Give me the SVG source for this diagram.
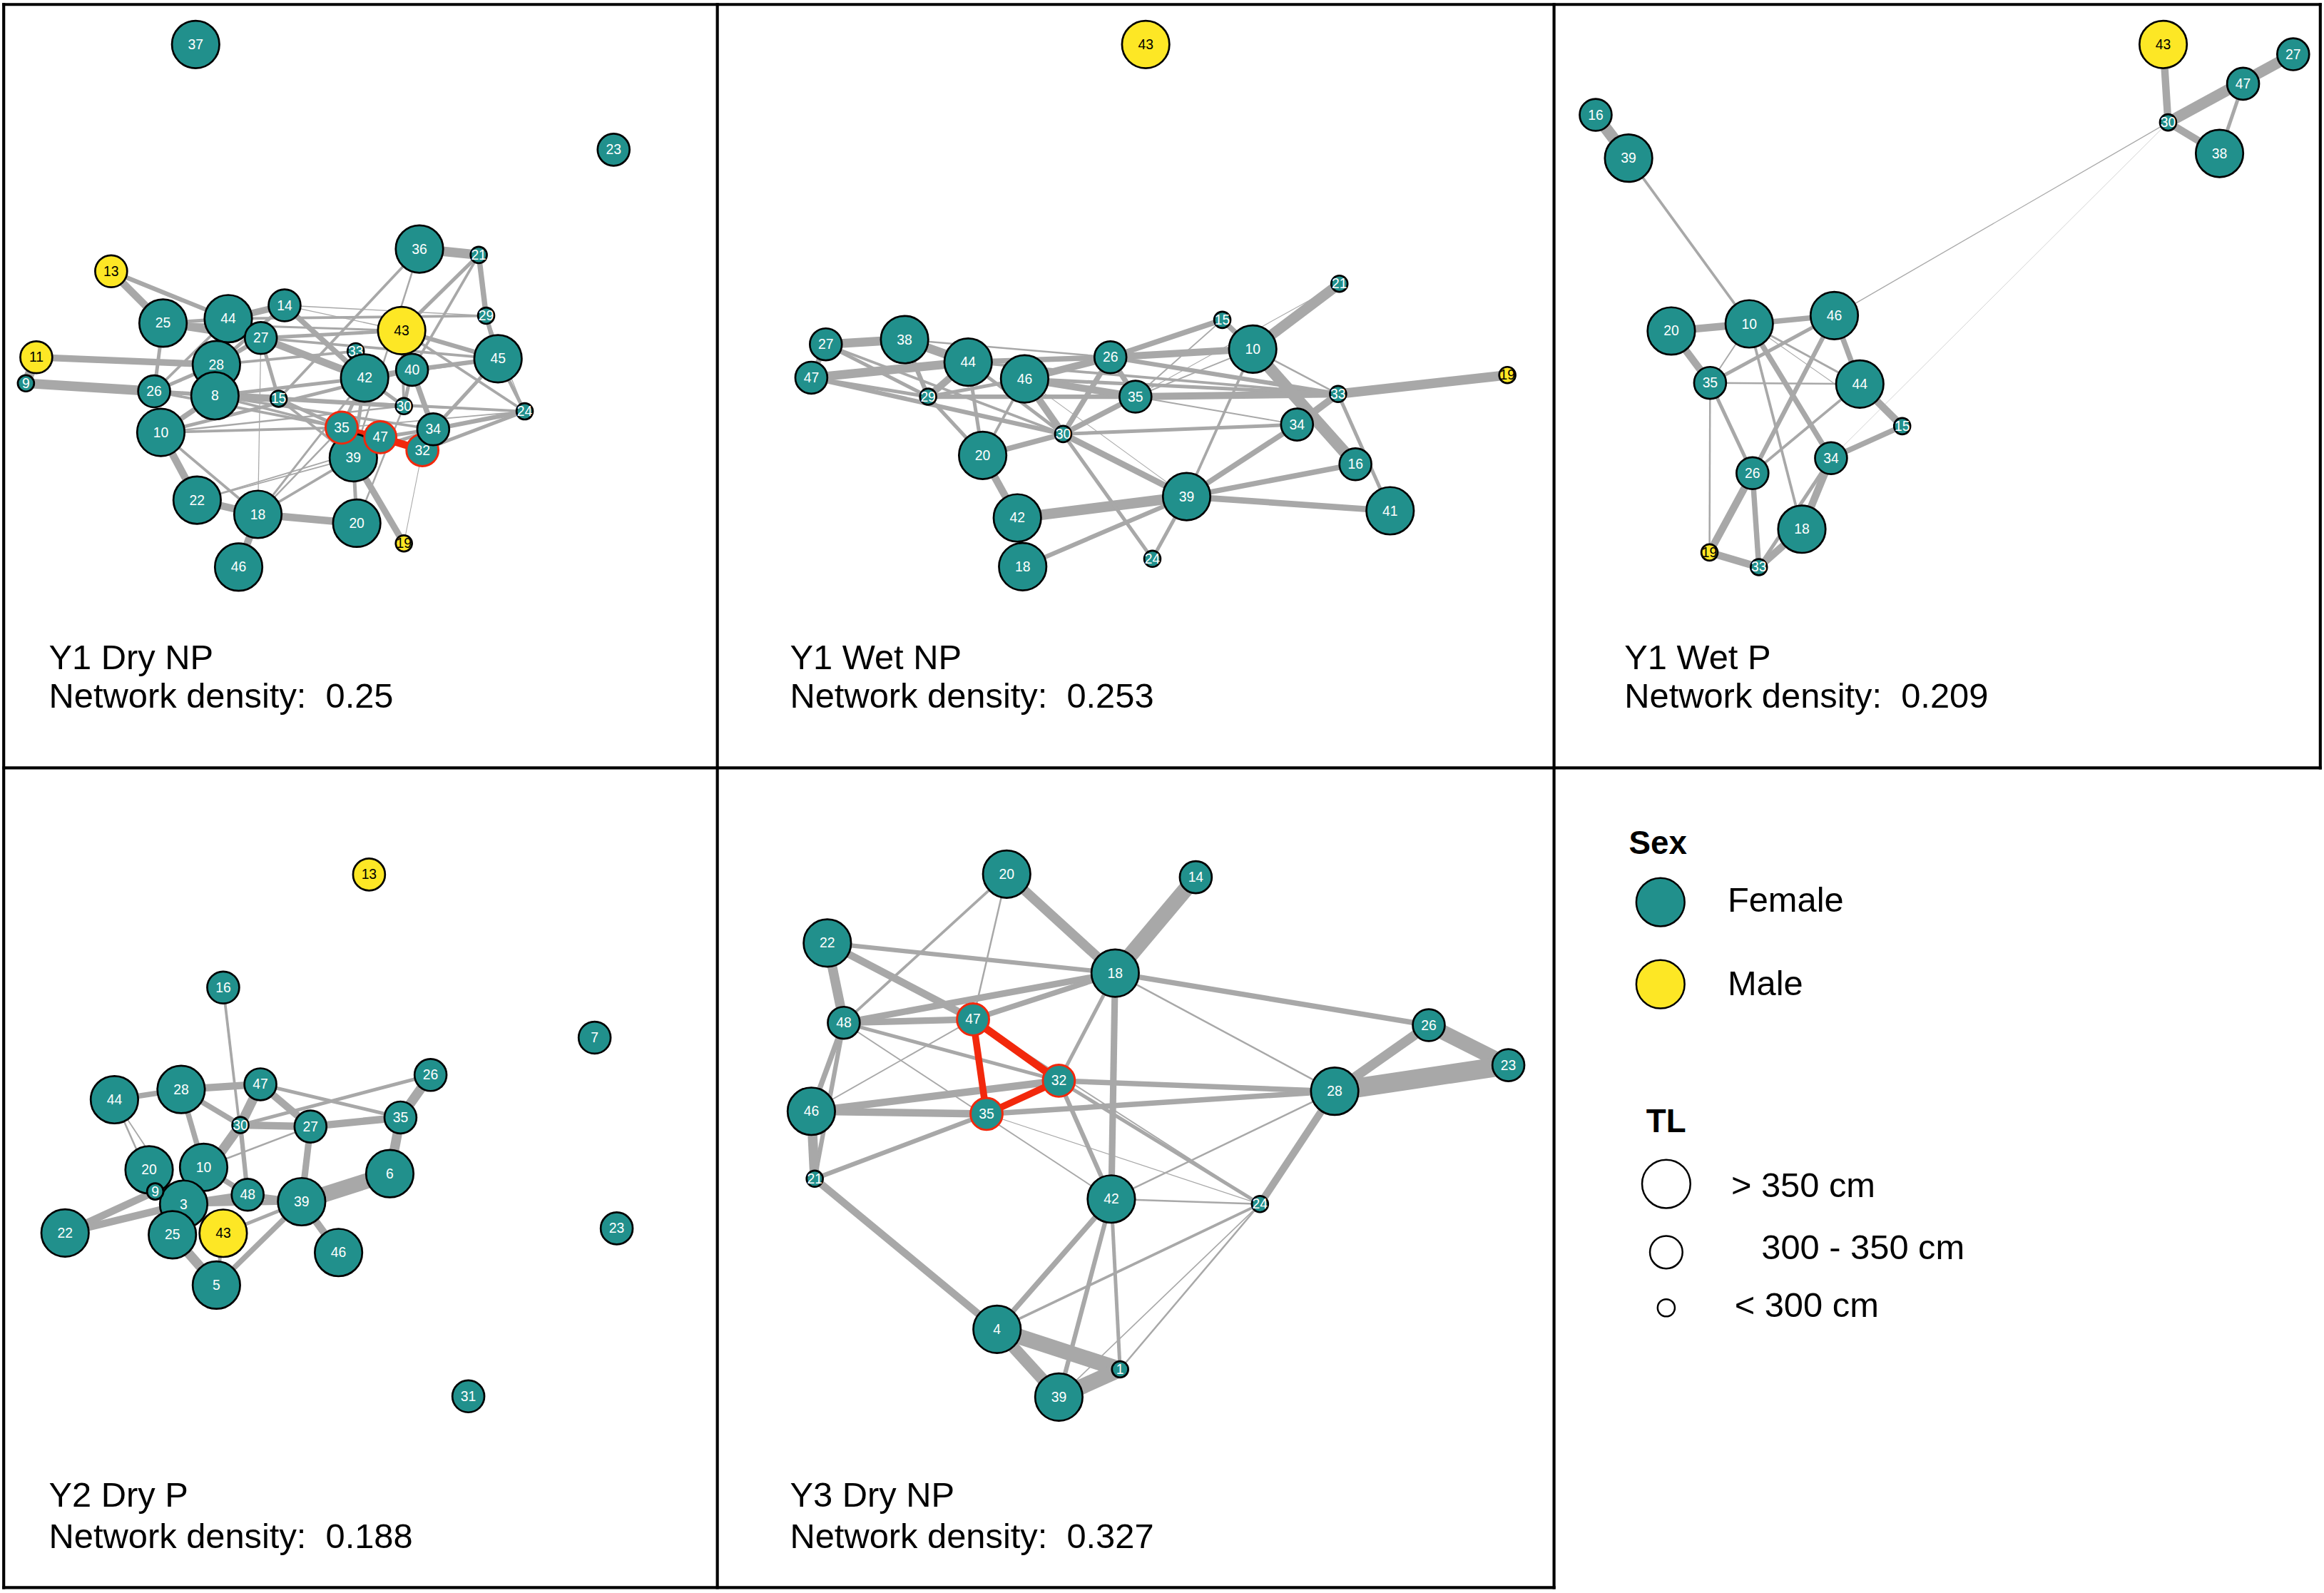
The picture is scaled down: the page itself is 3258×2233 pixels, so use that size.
<svg xmlns="http://www.w3.org/2000/svg" width="3258" height="2233" viewBox="0 0 3258 2233">
<style>
text{font-family:"Liberation Sans",Arial,Helvetica,sans-serif}
.ed line{stroke:#A8A8A8;stroke-linecap:butt}
.rd line{stroke:#F2280C;stroke-linecap:butt}
.n circle{stroke:#000;stroke-width:1.3}
.f circle{fill:#21908C}
.m circle{fill:#FDE725}
.n text{font-size:9.3px;text-anchor:middle;dominant-baseline:central}
.f text{fill:#fff}
.m text{fill:#000}
.r circle{stroke:#F2280C;stroke-width:1.4}
.lab{font-size:23.5px;fill:#000}
.hd{font-size:22px;font-weight:bold;fill:#000}
.fr line{stroke:#000;stroke-width:2}
.lg circle{stroke:#000;stroke-width:1.2}
</style>
<rect width="3258" height="2233" fill="#fff"/>
<g transform="scale(2.07781)">
<g id="frame" class="fr">
<line x1="1.5" y1="3" x2="1566.5" y2="3"/>
<line x1="2.5" y1="2" x2="2.5" y2="1072"/>
<line x1="484" y1="2" x2="484" y2="1072"/>
<line x1="1048.5" y1="2" x2="1048.5" y2="1072"/>
<line x1="1565.5" y1="2" x2="1565.5" y2="519"/>
<line x1="1.5" y1="518" x2="1566.5" y2="518"/>
<line x1="1.5" y1="1071" x2="1049.5" y2="1071"/>
</g>

<!-- ===== Panel 1: Y1 Dry NP ===== -->
<g id="p1-edges" class="ed">
<line x1="283" y1="168" x2="323" y2="172" stroke-width="6.5"/>
<line x1="323" y1="172" x2="328" y2="213" stroke-width="3.6"/>
<line x1="328" y1="213" x2="336" y2="242" stroke-width="3"/>
<line x1="336" y1="242" x2="354" y2="277.5" stroke-width="2.4"/>
<line x1="75" y1="183" x2="110" y2="218" stroke-width="5"/>
<line x1="75" y1="183" x2="154" y2="215" stroke-width="3"/>
<line x1="24.5" y1="241" x2="146" y2="246" stroke-width="4.5"/>
<line x1="24.5" y1="241" x2="17.5" y2="258.6" stroke-width="6.5"/>
<line x1="17.5" y1="258.6" x2="104" y2="264" stroke-width="6.5"/>
<line x1="110" y1="218" x2="104" y2="264" stroke-width="2.4"/>
<line x1="110" y1="218" x2="154" y2="215" stroke-width="2.4"/>
<line x1="110" y1="218" x2="176" y2="228" stroke-width="5"/>
<line x1="110" y1="218" x2="271" y2="223" stroke-width="1.4"/>
<line x1="154" y1="215" x2="328" y2="213" stroke-width="1.8"/>
<line x1="192" y1="206" x2="154" y2="215" stroke-width="4.4"/>
<line x1="192" y1="206" x2="246" y2="255" stroke-width="3.6"/>
<line x1="192" y1="206" x2="328" y2="213" stroke-width="0.7"/>
<line x1="192" y1="206" x2="146" y2="246" stroke-width="2.4"/>
<line x1="176" y1="228" x2="271" y2="223" stroke-width="2.4"/>
<line x1="176" y1="228" x2="246" y2="255" stroke-width="5"/>
<line x1="176" y1="228" x2="188" y2="269" stroke-width="2.4"/>
<line x1="176" y1="228" x2="336" y2="242" stroke-width="1.8"/>
<line x1="146" y1="246" x2="176" y2="228" stroke-width="3"/>
<line x1="146" y1="246" x2="104" y2="264" stroke-width="2.4"/>
<line x1="146" y1="246" x2="240" y2="237" stroke-width="1.8"/>
<line x1="145" y1="267" x2="188" y2="269" stroke-width="5"/>
<line x1="145" y1="267" x2="108.5" y2="291.7" stroke-width="3.6"/>
<line x1="145" y1="267" x2="104" y2="264" stroke-width="2.4"/>
<line x1="145" y1="267" x2="246" y2="255" stroke-width="2.4"/>
<line x1="145" y1="267" x2="292.3" y2="289.6" stroke-width="1.8"/>
<line x1="104" y1="264" x2="188" y2="269" stroke-width="2.4"/>
<line x1="104" y1="264" x2="230.5" y2="288.5" stroke-width="1.8"/>
<line x1="104" y1="264" x2="154" y2="215" stroke-width="1.8"/>
<line x1="108.5" y1="291.7" x2="133" y2="337.4" stroke-width="5"/>
<line x1="108.5" y1="291.7" x2="230.5" y2="288.5" stroke-width="1.8"/>
<line x1="108.5" y1="291.7" x2="174" y2="347" stroke-width="1.8"/>
<line x1="108.5" y1="291.7" x2="278" y2="249.5" stroke-width="2.4"/>
<line x1="133" y1="337.4" x2="174" y2="347" stroke-width="5"/>
<line x1="133" y1="337.4" x2="292.3" y2="289.6" stroke-width="0.9"/>
<line x1="133" y1="337.4" x2="238.4" y2="308.8" stroke-width="0.9"/>
<line x1="174" y1="347" x2="240.7" y2="353" stroke-width="5"/>
<line x1="174" y1="347" x2="161" y2="382.6" stroke-width="5"/>
<line x1="174" y1="347" x2="230.5" y2="288.5" stroke-width="1.2"/>
<line x1="174" y1="347" x2="246" y2="255" stroke-width="1.4"/>
<line x1="174" y1="347" x2="238.4" y2="308.8" stroke-width="1.8"/>
<line x1="176" y1="228" x2="174" y2="347" stroke-width="0.6"/>
<line x1="240.7" y1="353" x2="238.4" y2="308.8" stroke-width="2.4"/>
<line x1="240.7" y1="353" x2="272.5" y2="274" stroke-width="1.2"/>
<line x1="238.4" y1="308.8" x2="272.5" y2="366.6" stroke-width="4.4"/>
<line x1="285" y1="303.7" x2="272.5" y2="366.6" stroke-width="0.5"/>
<line x1="283" y1="168" x2="188" y2="269" stroke-width="1.8"/>
<line x1="283" y1="168" x2="238.4" y2="308.8" stroke-width="1.2"/>
<line x1="271" y1="223" x2="323" y2="172" stroke-width="2.4"/>
<line x1="278" y1="249.5" x2="323" y2="172" stroke-width="1.8"/>
<line x1="271" y1="223" x2="354" y2="277.5" stroke-width="1.8"/>
<line x1="271" y1="223" x2="336" y2="242" stroke-width="3"/>
<line x1="278" y1="249.5" x2="336" y2="242" stroke-width="3"/>
<line x1="246" y1="255" x2="278" y2="249.5" stroke-width="3.6"/>
<line x1="278" y1="249.5" x2="292.3" y2="289.6" stroke-width="3.6"/>
<line x1="278" y1="249.5" x2="272.5" y2="274" stroke-width="2.4"/>
<line x1="246" y1="255" x2="272.5" y2="274" stroke-width="2.4"/>
<line x1="246" y1="255" x2="238.4" y2="308.8" stroke-width="2.4"/>
<line x1="246" y1="255" x2="230.5" y2="288.5" stroke-width="2.4"/>
<line x1="292.3" y1="289.6" x2="354" y2="277.5" stroke-width="3"/>
<line x1="285" y1="303.7" x2="354" y2="277.5" stroke-width="2.4"/>
<line x1="292.3" y1="289.6" x2="336" y2="242" stroke-width="2.4"/>
<line x1="272.5" y1="274" x2="354" y2="277.5" stroke-width="1.2"/>
<line x1="188" y1="269" x2="354" y2="277.5" stroke-width="1.8"/>
<line x1="188" y1="269" x2="272.5" y2="274" stroke-width="3"/>
<line x1="188" y1="269" x2="238.4" y2="308.8" stroke-width="1.8"/>
<line x1="188" y1="269" x2="230.5" y2="288.5" stroke-width="2.4"/>
<line x1="145" y1="267" x2="230.5" y2="288.5" stroke-width="1.8"/>
<line x1="108.5" y1="291.7" x2="272.5" y2="274" stroke-width="1.2"/>
<line x1="238.4" y1="308.8" x2="292.3" y2="289.6" stroke-width="1.8"/>
<line x1="256.6" y1="295" x2="292.3" y2="289.6" stroke-width="2.4"/>
<line x1="271" y1="223" x2="272.5" y2="274" stroke-width="1.8"/>
<line x1="246" y1="255" x2="336" y2="242" stroke-width="1.8"/>
<line x1="192" y1="206" x2="271" y2="223" stroke-width="0.6"/>
<line x1="328" y1="213" x2="354" y2="277.5" stroke-width="0.6"/>
<line x1="230.5" y1="288.5" x2="354" y2="277.5" stroke-width="0.9"/>
</g>
<g id="p1-red" class="rd">
<line x1="230.5" y1="288.5" x2="256.6" y2="295" stroke-width="3.4"/>
<line x1="256.6" y1="295" x2="285" y2="303.7" stroke-width="5"/>
</g>
<g id="p1-nodes">
<g id="p1-n37" class="n f"><circle cx="132" cy="30" r="16"/><text x="132" y="30">37</text></g>
<g id="p1-n23" class="n f"><circle cx="414" cy="101" r="10.8"/><text x="414" y="101">23</text></g>
<g id="p1-n36" class="n f"><circle cx="283" cy="168" r="16"/><text x="283" y="168">36</text></g>
<g id="p1-n21" class="n f"><circle cx="323" cy="172" r="5.5"/><text x="323" y="172">21</text></g>
<g id="p1-n13" class="n m"><circle cx="75" cy="183" r="10.8"/><text x="75" y="183">13</text></g>
<g id="p1-n25" class="n f"><circle cx="110" cy="218" r="16"/><text x="110" y="218">25</text></g>
<g id="p1-n44" class="n f"><circle cx="154" cy="215" r="16"/><text x="154" y="215">44</text></g>
<g id="p1-n14" class="n f"><circle cx="192" cy="206" r="10.8"/><text x="192" y="206">14</text></g>
<g id="p1-n27" class="n f"><circle cx="176" cy="228" r="10.8"/><text x="176" y="228">27</text></g>
<g id="p1-n29" class="n f"><circle cx="328" cy="213" r="5.5"/><text x="328" y="213">29</text></g>
<g id="p1-n45" class="n f"><circle cx="336" cy="242" r="16"/><text x="336" y="242">45</text></g>
<g id="p1-n11" class="n m"><circle cx="24.5" cy="241" r="10.8"/><text x="24.5" y="241">11</text></g>
<g id="p1-n33" class="n f"><circle cx="240" cy="237" r="5.5"/><text x="240" y="237">33</text></g>
<g id="p1-n43" class="n m"><circle cx="271" cy="223" r="16"/><text x="271" y="223">43</text></g>
<g id="p1-n28" class="n f"><circle cx="146" cy="246" r="16"/><text x="146" y="246">28</text></g>
<g id="p1-n42" class="n f"><circle cx="246" cy="255" r="16"/><text x="246" y="255">42</text></g>
<g id="p1-n40" class="n f"><circle cx="278" cy="249.5" r="10.8"/><text x="278" y="249.5">40</text></g>
<g id="p1-n9" class="n f"><circle cx="17.5" cy="258.6" r="5.5"/><text x="17.5" y="258.6">9</text></g>
<g id="p1-n26" class="n f"><circle cx="104" cy="264" r="10.8"/><text x="104" y="264">26</text></g>
<g id="p1-n8" class="n f"><circle cx="145" cy="267" r="16"/><text x="145" y="267">8</text></g>
<g id="p1-n15" class="n f"><circle cx="188" cy="269" r="5.5"/><text x="188" y="269">15</text></g>
<g id="p1-n30" class="n f"><circle cx="272.5" cy="274" r="5.5"/><text x="272.5" y="274">30</text></g>
<g id="p1-n24" class="n f"><circle cx="354" cy="277.5" r="5.5"/><text x="354" y="277.5">24</text></g>
<g id="p1-n10" class="n f"><circle cx="108.5" cy="291.7" r="16"/><text x="108.5" y="291.7">10</text></g>
<g id="p1-n39" class="n f"><circle cx="238.4" cy="308.8" r="16"/><text x="238.4" y="308.8">39</text></g>
<g id="p1-n35" class="n f r"><circle cx="230.5" cy="288.5" r="10.8"/><text x="230.5" y="288.5">35</text></g>
<g id="p1-n47" class="n f r"><circle cx="256.6" cy="295" r="10.8"/><text x="256.6" y="295">47</text></g>
<g id="p1-n32" class="n f r"><circle cx="285" cy="303.7" r="10.8"/><text x="285" y="303.7">32</text></g>
<g id="p1-n34" class="n f"><circle cx="292.3" cy="289.6" r="10.8"/><text x="292.3" y="289.6">34</text></g>
<g id="p1-n22" class="n f"><circle cx="133" cy="337.4" r="16"/><text x="133" y="337.4">22</text></g>
<g id="p1-n18" class="n f"><circle cx="174" cy="347" r="16"/><text x="174" y="347">18</text></g>
<g id="p1-n20" class="n f"><circle cx="240.7" cy="353" r="16"/><text x="240.7" y="353">20</text></g>
<g id="p1-n19" class="n m"><circle cx="272.5" cy="366.6" r="5.5"/><text x="272.5" y="366.6">19</text></g>
<g id="p1-n46" class="n f"><circle cx="161" cy="382.6" r="16"/><text x="161" y="382.6">46</text></g>
</g>
<g id="p1-label">
<text class="lab" x="33" y="451.6">Y1 Dry NP</text>
<text class="lab" x="33" y="477.3" xml:space="preserve">Network density:  0.25</text>
</g>

<!-- ===== Panel 2: Y1 Wet NP ===== -->
<g id="p2-edges" class="ed">
<line x1="557.2" y1="232.3" x2="610.3" y2="229.1" stroke-width="6"/>
<line x1="557.2" y1="232.3" x2="547.4" y2="254.8" stroke-width="3.6"/>
<line x1="547.4" y1="254.8" x2="653.2" y2="244.3" stroke-width="6"/>
<line x1="547.4" y1="254.8" x2="626.2" y2="267.6" stroke-width="2.4"/>
<line x1="547.4" y1="254.8" x2="717.3" y2="292.8" stroke-width="3"/>
<line x1="557.2" y1="232.3" x2="626.2" y2="267.6" stroke-width="2.4"/>
<line x1="557.2" y1="232.3" x2="717.3" y2="292.8" stroke-width="1.8"/>
<line x1="610.3" y1="229.1" x2="653.2" y2="244.3" stroke-width="6"/>
<line x1="610.3" y1="229.1" x2="626.2" y2="267.6" stroke-width="3"/>
<line x1="610.3" y1="229.1" x2="749.2" y2="241" stroke-width="1.2"/>
<line x1="653.2" y1="244.3" x2="626.2" y2="267.6" stroke-width="4.8"/>
<line x1="653.2" y1="244.3" x2="749.2" y2="241" stroke-width="3.6"/>
<line x1="653.2" y1="244.3" x2="663" y2="307.2" stroke-width="2.4"/>
<line x1="653.2" y1="244.3" x2="717.3" y2="292.8" stroke-width="2.4"/>
<line x1="653.2" y1="244.3" x2="902.8" y2="265.8" stroke-width="1.8"/>
<line x1="626.2" y1="267.6" x2="766.1" y2="267.6" stroke-width="3"/>
<line x1="626.2" y1="267.6" x2="691.3" y2="255.6" stroke-width="2.4"/>
<line x1="626.2" y1="267.6" x2="663" y2="307.2" stroke-width="2.4"/>
<line x1="691.3" y1="255.6" x2="749.2" y2="241" stroke-width="4.8"/>
<line x1="691.3" y1="255.6" x2="717.3" y2="292.8" stroke-width="4.8"/>
<line x1="691.3" y1="255.6" x2="766.1" y2="267.6" stroke-width="4.8"/>
<line x1="691.3" y1="255.6" x2="902.8" y2="265.8" stroke-width="2.4"/>
<line x1="691.3" y1="255.6" x2="663" y2="307.2" stroke-width="1.8"/>
<line x1="691.3" y1="255.6" x2="800.6" y2="335" stroke-width="0.5"/>
<line x1="749.2" y1="241" x2="824.7" y2="215.8" stroke-width="3.6"/>
<line x1="749.2" y1="241" x2="845.2" y2="235.5" stroke-width="4.8"/>
<line x1="749.2" y1="241" x2="766.1" y2="267.6" stroke-width="3.6"/>
<line x1="749.2" y1="241" x2="717.3" y2="292.8" stroke-width="3.6"/>
<line x1="749.2" y1="241" x2="902.8" y2="265.8" stroke-width="3"/>
<line x1="766.1" y1="267.6" x2="717.3" y2="292.8" stroke-width="3.6"/>
<line x1="766.1" y1="267.6" x2="902.8" y2="265.8" stroke-width="4.8"/>
<line x1="766.1" y1="267.6" x2="824.7" y2="215.8" stroke-width="0.9"/>
<line x1="766.1" y1="267.6" x2="845.2" y2="235.5" stroke-width="0.9"/>
<line x1="766.1" y1="267.6" x2="875.1" y2="286.4" stroke-width="0.9"/>
<line x1="903.7" y1="191.4" x2="766.1" y2="267.6" stroke-width="0.5"/>
<line x1="824.7" y1="215.8" x2="845.2" y2="235.5" stroke-width="3.6"/>
<line x1="845.2" y1="235.5" x2="903.7" y2="191.4" stroke-width="7"/>
<line x1="845.2" y1="235.5" x2="902.8" y2="265.8" stroke-width="1.2"/>
<line x1="845.2" y1="235.5" x2="914.5" y2="313.2" stroke-width="8"/>
<line x1="845.2" y1="235.5" x2="800.6" y2="335" stroke-width="1.8"/>
<line x1="902.8" y1="265.8" x2="1017" y2="253" stroke-width="6.5"/>
<line x1="902.8" y1="265.8" x2="875.1" y2="286.4" stroke-width="4.8"/>
<line x1="902.8" y1="265.8" x2="937.9" y2="344.6" stroke-width="2.4"/>
<line x1="875.1" y1="286.4" x2="800.6" y2="335" stroke-width="3.6"/>
<line x1="875.1" y1="286.4" x2="717.3" y2="292.8" stroke-width="2.4"/>
<line x1="914.5" y1="313.2" x2="800.6" y2="335" stroke-width="3.6"/>
<line x1="800.6" y1="335" x2="937.9" y2="344.6" stroke-width="4.2"/>
<line x1="800.6" y1="335" x2="686.4" y2="349.4" stroke-width="7"/>
<line x1="800.6" y1="335" x2="690" y2="382.3" stroke-width="3"/>
<line x1="800.6" y1="335" x2="777.5" y2="377" stroke-width="2.4"/>
<line x1="717.3" y1="292.8" x2="800.6" y2="335" stroke-width="4.2"/>
<line x1="717.3" y1="292.8" x2="777.5" y2="377" stroke-width="2.4"/>
<line x1="717.3" y1="292.8" x2="663" y2="307.2" stroke-width="3.6"/>
<line x1="663" y1="307.2" x2="686.4" y2="349.4" stroke-width="5"/>
<line x1="686.4" y1="349.4" x2="690" y2="382.3" stroke-width="3.6"/>
</g>
<g id="p2-nodes">
<g id="p2-n43" class="n m"><circle cx="773" cy="30" r="16"/><text x="773" y="30">43</text></g>
<g id="p2-n21" class="n f"><circle cx="903.7" cy="191.4" r="5.5"/><text x="903.7" y="191.4">21</text></g>
<g id="p2-n15" class="n f"><circle cx="824.7" cy="215.8" r="5.5"/><text x="824.7" y="215.8">15</text></g>
<g id="p2-n10" class="n f"><circle cx="845.2" cy="235.5" r="16"/><text x="845.2" y="235.5">10</text></g>
<g id="p2-n19" class="n m"><circle cx="1017" cy="253" r="5.5"/><text x="1017" y="253">19</text></g>
<g id="p2-n27" class="n f"><circle cx="557.2" cy="232.3" r="10.8"/><text x="557.2" y="232.3">27</text></g>
<g id="p2-n38" class="n f"><circle cx="610.3" cy="229.1" r="16"/><text x="610.3" y="229.1">38</text></g>
<g id="p2-n44" class="n f"><circle cx="653.2" cy="244.3" r="16"/><text x="653.2" y="244.3">44</text></g>
<g id="p2-n46" class="n f"><circle cx="691.3" cy="255.6" r="16"/><text x="691.3" y="255.6">46</text></g>
<g id="p2-n26" class="n f"><circle cx="749.2" cy="241" r="10.8"/><text x="749.2" y="241">26</text></g>
<g id="p2-n47" class="n f"><circle cx="547.4" cy="254.8" r="10.8"/><text x="547.4" y="254.8">47</text></g>
<g id="p2-n29" class="n f"><circle cx="626.2" cy="267.6" r="5.5"/><text x="626.2" y="267.6">29</text></g>
<g id="p2-n35" class="n f"><circle cx="766.1" cy="267.6" r="10.8"/><text x="766.1" y="267.6">35</text></g>
<g id="p2-n33" class="n f"><circle cx="902.8" cy="265.8" r="5.5"/><text x="902.8" y="265.8">33</text></g>
<g id="p2-n30" class="n f"><circle cx="717.3" cy="292.8" r="5.5"/><text x="717.3" y="292.8">30</text></g>
<g id="p2-n34" class="n f"><circle cx="875.1" cy="286.4" r="10.8"/><text x="875.1" y="286.4">34</text></g>
<g id="p2-n20" class="n f"><circle cx="663" cy="307.2" r="16"/><text x="663" y="307.2">20</text></g>
<g id="p2-n16" class="n f"><circle cx="914.5" cy="313.2" r="10.8"/><text x="914.5" y="313.2">16</text></g>
<g id="p2-n39" class="n f"><circle cx="800.6" cy="335" r="16"/><text x="800.6" y="335">39</text></g>
<g id="p2-n41" class="n f"><circle cx="937.9" cy="344.6" r="16"/><text x="937.9" y="344.6">41</text></g>
<g id="p2-n42" class="n f"><circle cx="686.4" cy="349.4" r="16"/><text x="686.4" y="349.4">42</text></g>
<g id="p2-n18" class="n f"><circle cx="690" cy="382.3" r="16"/><text x="690" y="382.3">18</text></g>
<g id="p2-n24" class="n f"><circle cx="777.5" cy="377" r="5.5"/><text x="777.5" y="377">24</text></g>
</g>
<g id="p2-label">
<text class="lab" x="533" y="451.6">Y1 Wet NP</text>
<text class="lab" x="533" y="477.3" xml:space="preserve">Network density:  0.253</text>
</g>

<!-- ===== Panel 3: Y1 Wet P ===== -->
<g id="p3-edges" class="ed">
<line x1="1076.6" y1="77.5" x2="1098.8" y2="106.7" stroke-width="8"/>
<line x1="1098.8" y1="106.7" x2="1180.2" y2="218.5" stroke-width="1.8"/>
<line x1="1459.5" y1="30" x2="1462.8" y2="82.6" stroke-width="5"/>
<line x1="1462.8" y1="82.6" x2="1547.2" y2="36.6" stroke-width="7.5"/>
<line x1="1462.8" y1="82.6" x2="1497.5" y2="103.5" stroke-width="5"/>
<line x1="1513.4" y1="56.5" x2="1497.5" y2="103.5" stroke-width="2.4"/>
<line x1="1462.8" y1="82.6" x2="1237.6" y2="212.9" stroke-width="0.6"/>
<line x1="1462.8" y1="82.6" x2="1235.4" y2="309.1" stroke-width="0.4" stroke-opacity="0.6"/>
<line x1="1127.6" y1="223.3" x2="1180.2" y2="218.5" stroke-width="5"/>
<line x1="1127.6" y1="223.3" x2="1153.8" y2="258.3" stroke-width="5"/>
<line x1="1180.2" y1="218.5" x2="1237.6" y2="212.9" stroke-width="3.6"/>
<line x1="1180.2" y1="218.5" x2="1153.8" y2="258.3" stroke-width="0.9"/>
<line x1="1180.2" y1="218.5" x2="1254.8" y2="259.1" stroke-width="1.4"/>
<line x1="1180.2" y1="218.5" x2="1245" y2="264" stroke-width="0.5"/>
<line x1="1180.2" y1="218.5" x2="1235.4" y2="309.1" stroke-width="3.6"/>
<line x1="1180.2" y1="218.5" x2="1215.7" y2="357" stroke-width="1.8"/>
<line x1="1237.6" y1="212.9" x2="1153.8" y2="258.3" stroke-width="2.4"/>
<line x1="1237.6" y1="212.9" x2="1182.4" y2="319.2" stroke-width="3"/>
<line x1="1237.6" y1="212.9" x2="1254.8" y2="259.1" stroke-width="3.6"/>
<line x1="1153.8" y1="258.3" x2="1254.8" y2="259.1" stroke-width="1.2"/>
<line x1="1153.8" y1="258.3" x2="1182.4" y2="319.2" stroke-width="2.4"/>
<line x1="1153.8" y1="258.3" x2="1153.4" y2="372.7" stroke-width="1.2"/>
<line x1="1254.8" y1="259.1" x2="1283.4" y2="287.5" stroke-width="5"/>
<line x1="1254.8" y1="259.1" x2="1182.4" y2="319.2" stroke-width="1.8"/>
<line x1="1283.4" y1="287.5" x2="1235.4" y2="309.1" stroke-width="3.6"/>
<line x1="1235.4" y1="309.1" x2="1215.7" y2="357" stroke-width="5"/>
<line x1="1235.4" y1="309.1" x2="1186.7" y2="382.6" stroke-width="2.4"/>
<line x1="1182.4" y1="319.2" x2="1153.4" y2="372.7" stroke-width="5"/>
<line x1="1182.4" y1="319.2" x2="1186.7" y2="382.6" stroke-width="3.6"/>
<line x1="1153.4" y1="372.7" x2="1186.7" y2="382.6" stroke-width="5"/>
<line x1="1186.7" y1="382.6" x2="1215.7" y2="357" stroke-width="5"/>
</g>
<g id="p3-nodes">
<g id="p3-n43" class="n m"><circle cx="1459.5" cy="30" r="16"/><text x="1459.5" y="30">43</text></g>
<g id="p3-n27" class="n f"><circle cx="1547.2" cy="36.6" r="10.8"/><text x="1547.2" y="36.6">27</text></g>
<g id="p3-n47" class="n f"><circle cx="1513.4" cy="56.5" r="10.8"/><text x="1513.4" y="56.5">47</text></g>
<g id="p3-n30" class="n f"><circle cx="1462.8" cy="82.6" r="5.5"/><text x="1462.8" y="82.6">30</text></g>
<g id="p3-n38" class="n f"><circle cx="1497.5" cy="103.5" r="16"/><text x="1497.5" y="103.5">38</text></g>
<g id="p3-n16" class="n f"><circle cx="1076.6" cy="77.5" r="10.8"/><text x="1076.6" y="77.5">16</text></g>
<g id="p3-n39" class="n f"><circle cx="1098.8" cy="106.7" r="16"/><text x="1098.8" y="106.7">39</text></g>
<g id="p3-n20" class="n f"><circle cx="1127.6" cy="223.3" r="16"/><text x="1127.6" y="223.3">20</text></g>
<g id="p3-n10" class="n f"><circle cx="1180.2" cy="218.5" r="16"/><text x="1180.2" y="218.5">10</text></g>
<g id="p3-n46" class="n f"><circle cx="1237.6" cy="212.9" r="16"/><text x="1237.6" y="212.9">46</text></g>
<g id="p3-n35" class="n f"><circle cx="1153.8" cy="258.3" r="10.8"/><text x="1153.8" y="258.3">35</text></g>
<g id="p3-n44" class="n f"><circle cx="1254.8" cy="259.1" r="16"/><text x="1254.8" y="259.1">44</text></g>
<g id="p3-n15" class="n f"><circle cx="1283.4" cy="287.5" r="5.5"/><text x="1283.4" y="287.5">15</text></g>
<g id="p3-n34" class="n f"><circle cx="1235.4" cy="309.1" r="10.8"/><text x="1235.4" y="309.1">34</text></g>
<g id="p3-n26" class="n f"><circle cx="1182.4" cy="319.2" r="10.8"/><text x="1182.4" y="319.2">26</text></g>
<g id="p3-n18" class="n f"><circle cx="1215.7" cy="357" r="16"/><text x="1215.7" y="357">18</text></g>
<g id="p3-n19" class="n m"><circle cx="1153.4" cy="372.7" r="5.5"/><text x="1153.4" y="372.7">19</text></g>
<g id="p3-n33" class="n f"><circle cx="1186.7" cy="382.6" r="5.5"/><text x="1186.7" y="382.6">33</text></g>
</g>
<g id="p3-label">
<text class="lab" x="1096" y="451.6">Y1 Wet P</text>
<text class="lab" x="1096" y="477.3" xml:space="preserve">Network density:  0.209</text>
</g>

<!-- ===== Panel 4: Y2 Dry P ===== -->
<g id="p4-edges" class="ed">
<line x1="150.6" y1="666.2" x2="167.1" y2="806" stroke-width="1.8"/>
<line x1="77.2" y1="741.9" x2="122.2" y2="735" stroke-width="3.6"/>
<line x1="122.2" y1="735" x2="175.7" y2="731.5" stroke-width="5"/>
<line x1="122.2" y1="735" x2="162.2" y2="759" stroke-width="3.6"/>
<line x1="122.2" y1="735" x2="137.4" y2="787.5" stroke-width="3.6"/>
<line x1="77.2" y1="741.9" x2="104.7" y2="803.8" stroke-width="1.2"/>
<line x1="77.2" y1="741.9" x2="123.9" y2="812.4" stroke-width="0.9"/>
<line x1="175.7" y1="731.5" x2="162.2" y2="759" stroke-width="6.5"/>
<line x1="162.2" y1="759" x2="123.9" y2="812.4" stroke-width="6.5"/>
<line x1="175.7" y1="731.5" x2="209.5" y2="760" stroke-width="5"/>
<line x1="175.7" y1="731.5" x2="270.2" y2="753.9" stroke-width="2.4"/>
<line x1="162.2" y1="759" x2="209.5" y2="760" stroke-width="5"/>
<line x1="209.5" y1="760" x2="270.2" y2="753.9" stroke-width="5"/>
<line x1="162.2" y1="759" x2="290.5" y2="725.2" stroke-width="2.4"/>
<line x1="270.2" y1="753.9" x2="290.5" y2="725.2" stroke-width="6.5"/>
<line x1="270.2" y1="753.9" x2="263" y2="791.8" stroke-width="6.5"/>
<line x1="209.5" y1="760" x2="203.5" y2="810.7" stroke-width="4.4"/>
<line x1="209.5" y1="760" x2="137.4" y2="787.5" stroke-width="1.2"/>
<line x1="162.2" y1="759" x2="167.1" y2="806" stroke-width="3"/>
<line x1="203.5" y1="810.7" x2="263" y2="791.8" stroke-width="10.5"/>
<line x1="203.5" y1="810.7" x2="228.4" y2="845" stroke-width="5"/>
<line x1="203.5" y1="810.7" x2="146" y2="867" stroke-width="3.6"/>
<line x1="203.5" y1="810.7" x2="150.6" y2="832" stroke-width="2.4"/>
<line x1="203.5" y1="810.7" x2="123.9" y2="812.4" stroke-width="3.6"/>
<line x1="167.1" y1="806" x2="203.5" y2="810.7" stroke-width="3.6"/>
<line x1="167.1" y1="806" x2="123.9" y2="812.4" stroke-width="5"/>
<line x1="43.9" y1="831.8" x2="104.7" y2="803.8" stroke-width="5"/>
<line x1="43.9" y1="831.8" x2="123.9" y2="812.4" stroke-width="5"/>
<line x1="104.7" y1="803.8" x2="123.9" y2="812.4" stroke-width="3.6"/>
<line x1="137.4" y1="787.5" x2="123.9" y2="812.4" stroke-width="3.6"/>
<line x1="100.6" y1="789.2" x2="123.9" y2="812.4" stroke-width="3.6"/>
<line x1="116.3" y1="833" x2="146" y2="867" stroke-width="6.5"/>
<line x1="137.4" y1="787.5" x2="167.1" y2="806" stroke-width="3.6"/>
<line x1="150.6" y1="832" x2="146" y2="867" stroke-width="2.4"/>
</g>
<g id="p4-nodes">
<g id="p4-n13" class="n m"><circle cx="249" cy="590" r="10.8"/><text x="249" y="590">13</text></g>
<g id="p4-n16" class="n f"><circle cx="150.6" cy="666.2" r="10.8"/><text x="150.6" y="666.2">16</text></g>
<g id="p4-n7" class="n f"><circle cx="401.2" cy="700" r="10.8"/><text x="401.2" y="700">7</text></g>
<g id="p4-n26" class="n f"><circle cx="290.5" cy="725.2" r="10.8"/><text x="290.5" y="725.2">26</text></g>
<g id="p4-n47" class="n f"><circle cx="175.7" cy="731.5" r="10.8"/><text x="175.7" y="731.5">47</text></g>
<g id="p4-n28" class="n f"><circle cx="122.2" cy="735" r="16"/><text x="122.2" y="735">28</text></g>
<g id="p4-n44" class="n f"><circle cx="77.2" cy="741.9" r="16"/><text x="77.2" y="741.9">44</text></g>
<g id="p4-n35" class="n f"><circle cx="270.2" cy="753.9" r="10.8"/><text x="270.2" y="753.9">35</text></g>
<g id="p4-n30" class="n f"><circle cx="162.2" cy="759" r="5.5"/><text x="162.2" y="759">30</text></g>
<g id="p4-n27" class="n f"><circle cx="209.5" cy="760" r="10.8"/><text x="209.5" y="760">27</text></g>
<g id="p4-n20" class="n f"><circle cx="100.6" cy="789.2" r="16"/><text x="100.6" y="789.2">20</text></g>
<g id="p4-n10" class="n f"><circle cx="137.4" cy="787.5" r="16"/><text x="137.4" y="787.5">10</text></g>
<g id="p4-n6" class="n f"><circle cx="263" cy="791.8" r="16"/><text x="263" y="791.8">6</text></g>
<g id="p4-n48" class="n f"><circle cx="167.1" cy="806" r="10.8"/><text x="167.1" y="806">48</text></g>
<g id="p4-n39" class="n f"><circle cx="203.5" cy="810.7" r="16"/><text x="203.5" y="810.7">39</text></g>
<g id="p4-n3" class="n f"><circle cx="123.9" cy="812.4" r="16"/><text x="123.9" y="812.4">3</text></g>
<g id="p4-n9" class="n f"><circle cx="104.7" cy="803.8" r="5.5"/><text x="104.7" y="803.8">9</text></g>
<g id="p4-n22" class="n f"><circle cx="43.9" cy="831.8" r="16"/><text x="43.9" y="831.8">22</text></g>
<g id="p4-n25" class="n f"><circle cx="116.3" cy="833" r="16"/><text x="116.3" y="833">25</text></g>
<g id="p4-n43" class="n m"><circle cx="150.6" cy="832" r="16"/><text x="150.6" y="832">43</text></g>
<g id="p4-n23" class="n f"><circle cx="416.1" cy="828.7" r="10.8"/><text x="416.1" y="828.7">23</text></g>
<g id="p4-n46" class="n f"><circle cx="228.4" cy="845" r="16"/><text x="228.4" y="845">46</text></g>
<g id="p4-n5" class="n f"><circle cx="146" cy="867" r="16"/><text x="146" y="867">5</text></g>
<g id="p4-n31" class="n f"><circle cx="316" cy="942" r="10.8"/><text x="316" y="942">31</text></g>
</g>
<g id="p4-label">
<text class="lab" x="33" y="1016.3">Y2 Dry P</text>
<text class="lab" x="33" y="1044.4" xml:space="preserve">Network density:  0.188</text>
</g>

<!-- ===== Panel 5: Y3 Dry NP ===== -->
<g id="p5-edges" class="ed">
<line x1="679.2" y1="589.7" x2="752.4" y2="656.5" stroke-width="6.5"/>
<line x1="806.8" y1="591.8" x2="752.4" y2="656.5" stroke-width="10.5"/>
<line x1="679.2" y1="589.7" x2="569.3" y2="690" stroke-width="1.8"/>
<line x1="679.2" y1="589.7" x2="656.5" y2="687.7" stroke-width="1.2"/>
<line x1="558.2" y1="636.2" x2="752.4" y2="656.5" stroke-width="3"/>
<line x1="558.2" y1="636.2" x2="569.3" y2="690" stroke-width="6.5"/>
<line x1="558.2" y1="636.2" x2="656.5" y2="687.7" stroke-width="5"/>
<line x1="569.3" y1="690" x2="752.4" y2="656.5" stroke-width="4.4"/>
<line x1="569.3" y1="690" x2="656.5" y2="687.7" stroke-width="4.4"/>
<line x1="656.5" y1="687.7" x2="752.4" y2="656.5" stroke-width="3.6"/>
<line x1="569.3" y1="690" x2="714.4" y2="729.1" stroke-width="2.4"/>
<line x1="569.3" y1="690" x2="547.4" y2="749.7" stroke-width="3.6"/>
<line x1="569.3" y1="690" x2="549.7" y2="795.2" stroke-width="3"/>
<line x1="569.3" y1="690" x2="749.8" y2="808.9" stroke-width="0.9"/>
<line x1="547.4" y1="749.7" x2="549.7" y2="795.2" stroke-width="6.5"/>
<line x1="547.4" y1="749.7" x2="714.4" y2="729.1" stroke-width="5"/>
<line x1="547.4" y1="749.7" x2="665.6" y2="751.5" stroke-width="5"/>
<line x1="547.4" y1="749.7" x2="656.5" y2="687.7" stroke-width="0.9"/>
<line x1="665.6" y1="751.5" x2="900.5" y2="736.2" stroke-width="3.6"/>
<line x1="714.4" y1="729.1" x2="900.5" y2="736.2" stroke-width="3.6"/>
<line x1="665.6" y1="751.5" x2="549.7" y2="795.2" stroke-width="3"/>
<line x1="665.6" y1="751.5" x2="850.1" y2="812.3" stroke-width="0.6"/>
<line x1="714.4" y1="729.1" x2="850.1" y2="812.3" stroke-width="2.4"/>
<line x1="714.4" y1="729.1" x2="749.8" y2="808.9" stroke-width="3"/>
<line x1="714.4" y1="729.1" x2="752.4" y2="656.5" stroke-width="2.4"/>
<line x1="656.5" y1="687.7" x2="850.1" y2="812.3" stroke-width="0.9"/>
<line x1="752.4" y1="656.5" x2="749.8" y2="808.9" stroke-width="4.4"/>
<line x1="752.4" y1="656.5" x2="900.5" y2="736.2" stroke-width="1.2"/>
<line x1="752.4" y1="656.5" x2="964" y2="691.6" stroke-width="3.6"/>
<line x1="964" y1="691.6" x2="1017.7" y2="718.6" stroke-width="10"/>
<line x1="900.5" y1="736.2" x2="1017.7" y2="718.6" stroke-width="13"/>
<line x1="900.5" y1="736.2" x2="964" y2="691.6" stroke-width="6.5"/>
<line x1="900.5" y1="736.2" x2="850.1" y2="812.3" stroke-width="5"/>
<line x1="900.5" y1="736.2" x2="749.8" y2="808.9" stroke-width="1.2"/>
<line x1="749.8" y1="808.9" x2="850.1" y2="812.3" stroke-width="1.2"/>
<line x1="749.8" y1="808.9" x2="672.7" y2="896.8" stroke-width="3.6"/>
<line x1="749.8" y1="808.9" x2="714.4" y2="942.5" stroke-width="3"/>
<line x1="749.8" y1="808.9" x2="755.7" y2="923.8" stroke-width="2.4"/>
<line x1="850.1" y1="812.3" x2="672.7" y2="896.8" stroke-width="1.8"/>
<line x1="850.1" y1="812.3" x2="755.7" y2="923.8" stroke-width="1.2"/>
<line x1="850.1" y1="812.3" x2="714.4" y2="942.5" stroke-width="0.8"/>
<line x1="549.7" y1="795.2" x2="672.7" y2="896.8" stroke-width="5"/>
<line x1="672.7" y1="896.8" x2="755.7" y2="923.8" stroke-width="10.5"/>
<line x1="672.7" y1="896.8" x2="714.4" y2="942.5" stroke-width="8"/>
<line x1="714.4" y1="942.5" x2="755.7" y2="923.8" stroke-width="10.5"/>
<line x1="656.5" y1="687.7" x2="714.4" y2="729.1" stroke-width="2.4"/>
</g>
<g id="p5-red" class="rd">
<line x1="656.5" y1="687.7" x2="665.6" y2="751.5" stroke-width="4.6"/>
<line x1="656.5" y1="687.7" x2="714.4" y2="729.1" stroke-width="5.2"/>
<line x1="665.6" y1="751.5" x2="714.4" y2="729.1" stroke-width="4.6"/>
</g>
<g id="p5-nodes">
<g id="p5-n20" class="n f"><circle cx="679.2" cy="589.7" r="16"/><text x="679.2" y="589.7">20</text></g>
<g id="p5-n14" class="n f"><circle cx="806.8" cy="591.8" r="10.8"/><text x="806.8" y="591.8">14</text></g>
<g id="p5-n22" class="n f"><circle cx="558.2" cy="636.2" r="16"/><text x="558.2" y="636.2">22</text></g>
<g id="p5-n18" class="n f"><circle cx="752.4" cy="656.5" r="16"/><text x="752.4" y="656.5">18</text></g>
<g id="p5-n48" class="n f"><circle cx="569.3" cy="690" r="10.8"/><text x="569.3" y="690">48</text></g>
<g id="p5-n47" class="n f r"><circle cx="656.5" cy="687.7" r="10.8"/><text x="656.5" y="687.7">47</text></g>
<g id="p5-n26" class="n f"><circle cx="964" cy="691.6" r="10.8"/><text x="964" y="691.6">26</text></g>
<g id="p5-n23" class="n f"><circle cx="1017.7" cy="718.6" r="10.8"/><text x="1017.7" y="718.6">23</text></g>
<g id="p5-n32" class="n f r"><circle cx="714.4" cy="729.1" r="10.8"/><text x="714.4" y="729.1">32</text></g>
<g id="p5-n28" class="n f"><circle cx="900.5" cy="736.2" r="16"/><text x="900.5" y="736.2">28</text></g>
<g id="p5-n46" class="n f"><circle cx="547.4" cy="749.7" r="16"/><text x="547.4" y="749.7">46</text></g>
<g id="p5-n35" class="n f r"><circle cx="665.6" cy="751.5" r="10.8"/><text x="665.6" y="751.5">35</text></g>
<g id="p5-n21" class="n f"><circle cx="549.7" cy="795.2" r="5.5"/><text x="549.7" y="795.2">21</text></g>
<g id="p5-n42" class="n f"><circle cx="749.8" cy="808.9" r="16"/><text x="749.8" y="808.9">42</text></g>
<g id="p5-n24" class="n f"><circle cx="850.1" cy="812.3" r="5.5"/><text x="850.1" y="812.3">24</text></g>
<g id="p5-n4" class="n f"><circle cx="672.7" cy="896.8" r="16"/><text x="672.7" y="896.8">4</text></g>
<g id="p5-n1" class="n f"><circle cx="755.7" cy="923.8" r="5.5"/><text x="755.7" y="923.8">1</text></g>
<g id="p5-n39" class="n f"><circle cx="714.4" cy="942.5" r="16"/><text x="714.4" y="942.5">39</text></g>
</g>
<g id="p5-label">
<text class="lab" x="533" y="1016.3">Y3 Dry NP</text>
<text class="lab" x="533" y="1044.4" xml:space="preserve">Network density:  0.327</text>
</g>

<!-- ===== Legend ===== -->
<g id="legend" class="lg">
<text class="hd" x="1099" y="576">Sex</text>
<circle cx="1120.3" cy="608.6" r="16.3" fill="#21908C"/>
<text class="lab" x="1165.6" y="615">Female</text>
<circle cx="1120.3" cy="664" r="16.3" fill="#FDE725"/>
<text class="lab" x="1165.6" y="671.5">Male</text>
<text class="hd" x="1110.7" y="764">TL</text>
<circle cx="1124.2" cy="798.7" r="16.3" fill="none"/>
<text class="lab" x="1168" y="807.5">&gt; 350 cm</text>
<circle cx="1124.2" cy="844.8" r="11" fill="none"/>
<text class="lab" x="1188.4" y="849.5">300 - 350 cm</text>
<circle cx="1124.2" cy="882.3" r="5.8" fill="none"/>
<text class="lab" x="1170.3" y="888.5">&lt; 300 cm</text>
</g>
</g>
</svg>
